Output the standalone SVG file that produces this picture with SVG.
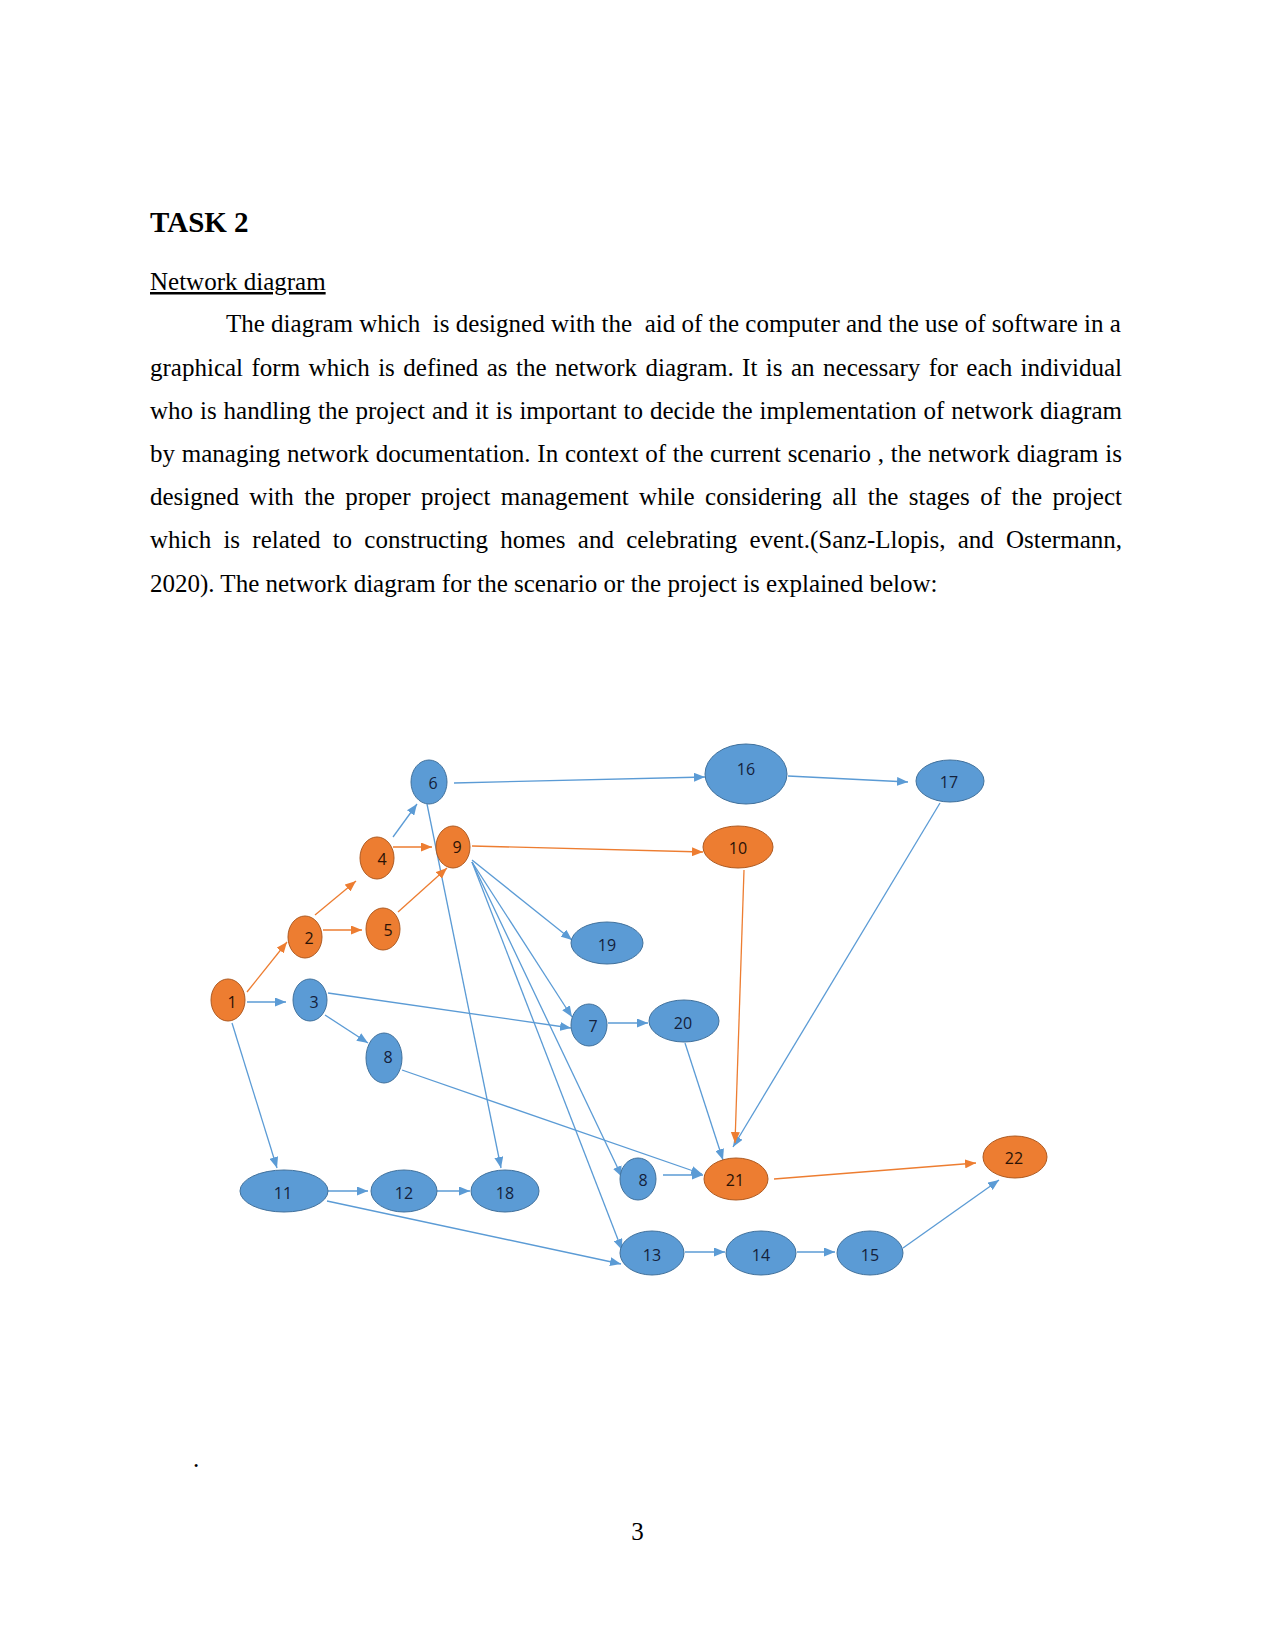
<svg xmlns="http://www.w3.org/2000/svg" width="1275" height="1650" viewBox="0 0 1275 1650">
<style>
.body{font-family:"Liberation Serif","Times New Roman",serif;font-size:25px;fill:#000}
.title{font-family:"Liberation Serif","Times New Roman",serif;font-size:29px;font-weight:bold;fill:#000}
.nb{fill:#5B9BD5;stroke:#41719C;stroke-width:1}
.no{fill:#ED7D31;stroke:#AE5A21;stroke-width:1}
.lb{font-family:"Open Sans","Liberation Sans",sans-serif;font-size:16px;text-anchor:middle;dominant-baseline:central;fill:#14213b}
.lo{font-family:"Open Sans","Liberation Sans",sans-serif;font-size:16px;text-anchor:middle;dominant-baseline:central;fill:#2a1206}
.eb{stroke:#5B9BD5;stroke-width:1.3;fill:none;marker-end:url(#ab)}
.eo{stroke:#ED7D31;stroke-width:1.3;fill:none;marker-end:url(#ao)}
</style>
<defs>
<marker id="ab" markerUnits="userSpaceOnUse" markerWidth="11" markerHeight="9" refX="11" refY="4.5" orient="auto"><path d="M0,0 L11,4.5 L0,9 z" fill="#5B9BD5"/></marker>
<marker id="ao" markerUnits="userSpaceOnUse" markerWidth="11" markerHeight="9" refX="11" refY="4.5" orient="auto"><path d="M0,0 L11,4.5 L0,9 z" fill="#ED7D31"/></marker>
</defs>
<rect width="1275" height="1650" fill="#fff"/>
<g id="text">
<text class="title" x="150" y="232">TASK 2</text>
<text class="body" x="150" y="290" text-decoration="underline">Network diagram</text>
<text class="body" x="226" y="332" xml:space="preserve">The diagram which  is designed with the  aid of the computer and the use of software in a</text>
<text class="body" x="150" y="375.5" word-spacing="2.2" textLength="972" lengthAdjust="spacing">graphical form which is defined as the network diagram. It is an necessary for each individual</text>
<text class="body" x="150" y="418.7" word-spacing="0.7" textLength="972" lengthAdjust="spacing">who is handling the project and it is important to decide the implementation of network diagram</text>
<text class="body" x="150" y="461.9" word-spacing="0.5" textLength="972" lengthAdjust="spacing">by managing network documentation. In context of the current scenario , the network diagram is</text>
<text class="body" x="150" y="505.1" word-spacing="4.2" textLength="972" lengthAdjust="spacing">designed with the proper project management while considering all the stages of the project</text>
<text class="body" x="150" y="548.3" word-spacing="6" textLength="972" lengthAdjust="spacing">which is related to constructing homes and celebrating event.(Sanz-Llopis, and Ostermann,</text>
<text class="body" x="150" y="591.5">2020). The network diagram for the scenario or the project is explained below:</text>
<text class="body" x="193" y="1467">.</text>
<text class="body" x="637.5" y="1540" text-anchor="middle">3</text>
</g>
<g id="connectors">
<line class="eb" x1="454" y1="783" x2="705" y2="777"/>
<line class="eb" x1="788" y1="776" x2="908" y2="782"/>
<line class="eb" x1="940" y1="803" x2="733" y2="1147"/>
<line class="eb" x1="685" y1="1043" x2="723" y2="1160"/>
<line class="eb" x1="402" y1="1070" x2="702" y2="1174"/>
<line class="eb" x1="663" y1="1175" x2="703" y2="1175"/>
<line class="eb" x1="903" y1="1248" x2="999" y2="1180"/>
<line class="eb" x1="685" y1="1252" x2="725" y2="1252"/>
<line class="eb" x1="797" y1="1252" x2="835" y2="1252"/>
<line class="eb" x1="327" y1="1201" x2="621" y2="1264"/>
<line class="eb" x1="328" y1="1191" x2="368" y2="1191"/>
<line class="eb" x1="437" y1="1191" x2="470" y2="1191"/>
<line class="eb" x1="232" y1="1023" x2="277" y2="1168"/>
<line class="eb" x1="427" y1="804" x2="501" y2="1168"/>
<line class="eb" x1="325" y1="1015" x2="368" y2="1043"/>
<line class="eb" x1="328" y1="993" x2="571" y2="1028"/>
<line class="eb" x1="472" y1="860" x2="572" y2="940"/>
<line class="eb" x1="472" y1="862" x2="572" y2="1017"/>
<line class="eb" x1="472" y1="862" x2="622" y2="1177"/>
<line class="eb" x1="472" y1="862" x2="622" y2="1250"/>
<line class="eb" x1="247" y1="1002" x2="286" y2="1002"/>
<line class="eb" x1="393" y1="837" x2="417" y2="804"/>
<line class="eb" x1="608" y1="1023" x2="648" y2="1023"/>
<line class="eo" x1="472" y1="846" x2="703" y2="852"/>
<line class="eo" x1="744" y1="870" x2="735" y2="1143"/>
<line class="eo" x1="774" y1="1179" x2="976" y2="1163"/>
<line class="eo" x1="247" y1="992" x2="287" y2="942"/>
<line class="eo" x1="315" y1="915" x2="356" y2="881"/>
<line class="eo" x1="323" y1="930" x2="362" y2="930"/>
<line class="eo" x1="393" y1="847" x2="432" y2="847"/>
<line class="eo" x1="398" y1="912" x2="447" y2="868"/>
</g>
<g id="node-1"><ellipse class="no" cx="228" cy="1000" rx="17" ry="21"/><text class="lo" x="232" y="1002">1</text></g>
<g id="node-2"><ellipse class="no" cx="305" cy="937" rx="17" ry="21"/><text class="lo" x="309" y="938">2</text></g>
<g id="node-3"><ellipse class="nb" cx="310" cy="1000" rx="17" ry="21"/><text class="lb" x="314" y="1002">3</text></g>
<g id="node-4"><ellipse class="no" cx="377" cy="858" rx="17" ry="21"/><text class="lo" x="382" y="859">4</text></g>
<g id="node-5"><ellipse class="no" cx="383" cy="929" rx="17" ry="21"/><text class="lo" x="388" y="930">5</text></g>
<g id="node-6"><ellipse class="nb" cx="429" cy="782" rx="18" ry="22"/><text class="lb" x="433" y="783">6</text></g>
<g id="node-9"><ellipse class="no" cx="453" cy="847" rx="17" ry="21"/><text class="lo" x="457" y="847">9</text></g>
<g id="node-8a"><ellipse class="nb" cx="384" cy="1058" rx="18" ry="25"/><text class="lb" x="388" y="1057">8</text></g>
<g id="node-19"><ellipse class="nb" cx="607" cy="943" rx="36" ry="21"/><text class="lb" x="607" y="945">19</text></g>
<g id="node-7"><ellipse class="nb" cx="589" cy="1025" rx="18" ry="21"/><text class="lb" x="593" y="1026">7</text></g>
<g id="node-20"><ellipse class="nb" cx="684" cy="1021" rx="35" ry="21"/><text class="lb" x="683" y="1023">20</text></g>
<g id="node-16"><ellipse class="nb" cx="746" cy="774" rx="41" ry="30"/><text class="lb" x="746" y="769">16</text></g>
<g id="node-17"><ellipse class="nb" cx="950" cy="781" rx="34" ry="21"/><text class="lb" x="949" y="782">17</text></g>
<g id="node-10"><ellipse class="no" cx="738" cy="847" rx="35" ry="21"/><text class="lo" x="738" y="848">10</text></g>
<g id="node-11"><ellipse class="nb" cx="284" cy="1191" rx="44" ry="21"/><text class="lb" x="283" y="1193">11</text></g>
<g id="node-12"><ellipse class="nb" cx="404" cy="1191" rx="33" ry="21"/><text class="lb" x="404" y="1193">12</text></g>
<g id="node-18"><ellipse class="nb" cx="505" cy="1191" rx="34" ry="21"/><text class="lb" x="505" y="1193">18</text></g>
<g id="node-8b"><ellipse class="nb" cx="638" cy="1179" rx="18" ry="21"/><text class="lb" x="643" y="1180">8</text></g>
<g id="node-21"><ellipse class="no" cx="736" cy="1179" rx="32" ry="21"/><text class="lo" x="735" y="1180">21</text></g>
<g id="node-22"><ellipse class="no" cx="1015" cy="1157" rx="32" ry="21"/><text class="lo" x="1014" y="1158">22</text></g>
<g id="node-13"><ellipse class="nb" cx="652" cy="1253" rx="32" ry="22"/><text class="lb" x="652" y="1255">13</text></g>
<g id="node-14"><ellipse class="nb" cx="761" cy="1253" rx="35" ry="22"/><text class="lb" x="761" y="1255">14</text></g>
<g id="node-15"><ellipse class="nb" cx="870" cy="1253" rx="33" ry="22"/><text class="lb" x="870" y="1255">15</text></g>
</svg>
